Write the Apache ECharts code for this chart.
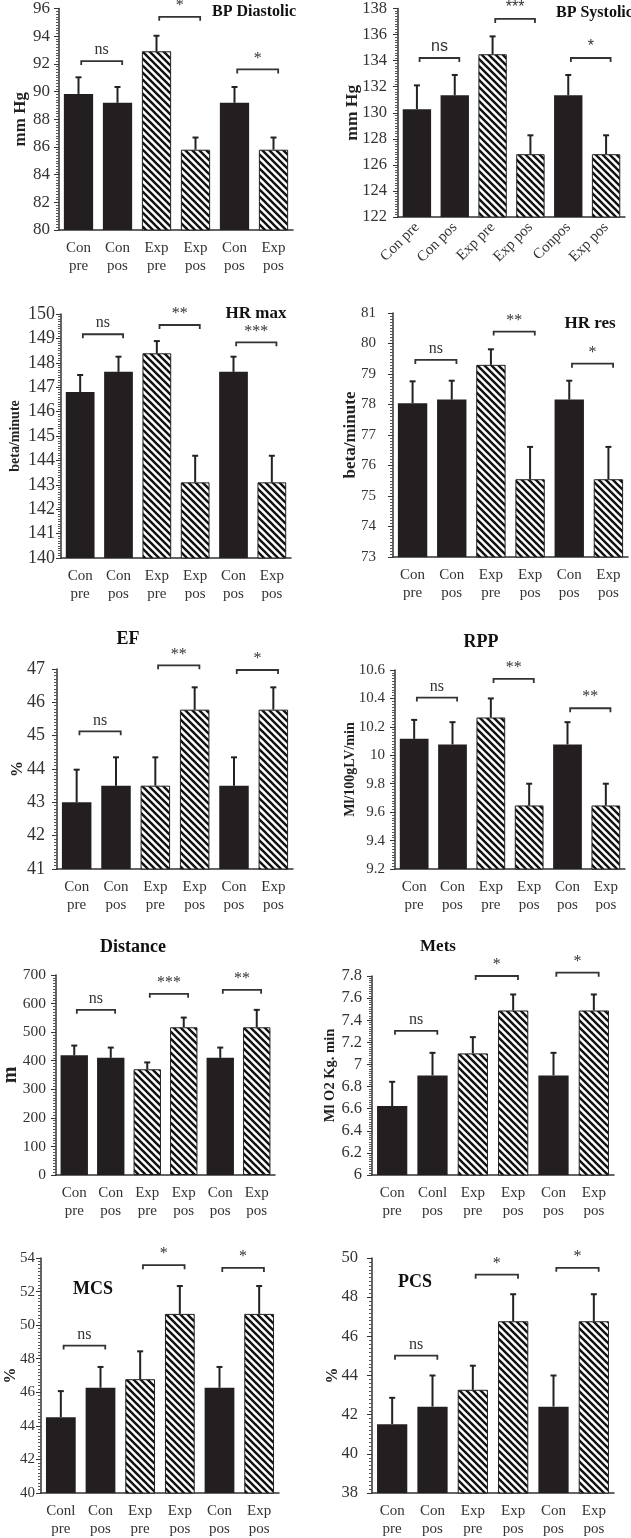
<!DOCTYPE html>
<html><head><meta charset="utf-8">
<script src="https://cdn.jsdelivr.net/npm/echarts@6/dist/echarts.min.js"></script>
<style>html,body{margin:0;padding:0;background:#fff}#c{width:631px;height:1538px}</style>
</head><body><div id="c"></div>
<script>
// ---------- DATA ----------
const catsStd   = ["Con\npre","Con\npos","Exp\npre","Exp\npos","Con\npos","Exp\npos"];
const catsBPSys = ["Con pre","Con pos","Exp pre","Exp pos","Conpos","Exp pos"];
const catsMets  = ["Con\npre","Conl\npos","Exp\npre","Exp\npos","Con\npos","Exp\npos"];
const catsMCS   = ["Conl\npre","Con\npos","Exp\npre","Exp\npos","Con\npos","Exp\npos"];
const hatched   = [false,false,true,true,false,true];

const titles = ["BP Diastolic","BP Systolic","HR max","HR res","EF","RPP","Distance","Mets","MCS","PCS"];
const yNames = ["mm Hg","mm Hg","beta/minute","beta/minute","%","Ml/100gLV/min","m","Ml O2 Kg. min","%","%"];

const bpDiaMean = [89.83, 89.19, 92.91, 85.80, 89.19, 85.80];
const bpDiaSD   = [1.20, 1.14, 1.12, 0.88, 1.14, 0.88];
const bpSysMean = [130.27, 131.34, 134.49, 126.82, 131.34, 126.82];
const bpSysSD   = [1.83, 1.56, 1.37, 1.45, 1.56, 1.45];
const hrMaxMean = [146.80, 147.63, 148.39, 143.10, 147.63, 143.10];
const hrMaxSD   = [0.70, 0.62, 0.50, 1.09, 0.62, 1.09];
const hrResMean = [78.04, 78.16, 79.30, 75.55, 78.16, 75.55];
const hrResSD   = [0.72, 0.62, 0.51, 1.06, 0.62, 1.06];
const efMean    = [43.00, 43.50, 43.50, 45.78, 43.50, 45.78];
const efSD      = [0.98, 0.85, 0.85, 0.67, 0.85, 0.67];
const rppMean   = [10.116, 10.076, 10.266, 9.647, 10.076, 9.647];
const rppSD     = [0.133, 0.157, 0.134, 0.153, 0.157, 0.153];
const distMean  = [419, 410, 370, 517, 410, 517];
const distSD    = [34, 36, 24, 34, 36, 61];
const metsMean  = [6.623, 6.90, 7.10, 7.488, 6.90, 7.488];
const metsSD    = [0.22, 0.205, 0.147, 0.145, 0.205, 0.145];
const mcsMean   = [44.52, 46.27, 46.78, 50.67, 46.27, 50.67];
const mcsSD     = [1.55, 1.24, 1.66, 1.66, 1.24, 1.66];
const pcsMean   = [41.51, 42.41, 43.27, 46.77, 42.41, 46.77];
const pcsSD     = [1.35, 1.59, 1.23, 1.38, 1.59, 1.38];

// significance brackets: [fromCategory, toCategory, yValue, label]
const bpDiaSig = [[0,1,92.2,"ns"],[2,3,95.4,"*"],[4,5,91.6,"*"]];
const bpSysSig = [[0,1,134.2,"ns"],[2,3,137.2,"***"],[4,5,134.2,"*"]];
const hrMaxSig = [[0,1,149.17,"ns"],[2,3,149.55,"**"],[4,5,148.84,"***"]];
const hrResSig = [[0,1,79.46,"ns"],[2,3,80.39,"**"],[4,5,79.34,"*"]];
const efSig    = [[0,1,45.13,"ns"],[2,3,47.11,"**"],[4,5,46.97,"*"]];
const rppSig   = [[0,1,10.406,"ns"],[2,3,10.537,"**"],[4,5,10.331,"**"]];
const distSig  = [[0,1,578,"ns"],[2,3,634,"***"],[4,5,648,"**"]];
const metsSig  = [[0,1,7.304,"ns"],[2,3,7.80,"*"],[4,5,7.83,"*"]];
const mcsSig   = [[0,1,48.78,"ns"],[2,3,53.57,"*"],[4,5,53.41,"*"]];
const pcsSig   = [[0,1,45.01,"ns"],[2,3,49.15,"*"],[4,5,49.5,"*"]];

// y-axis ranges [min, max, interval]
const yRanges = [[80,96,2],[122,138,2],[140,150,1],[73,81,1],[41,47,1],[9.2,10.6,0.2],[0,700,100],[6,7.8,0.2],[40,54,2],[38,50,2]];

const panels = [
  {cats:catsStd,   mean:bpDiaMean, sd:bpDiaSD, sig:bpDiaSig},
  {cats:catsBPSys, mean:bpSysMean, sd:bpSysSD, sig:bpSysSig},
  {cats:catsStd,   mean:hrMaxMean, sd:hrMaxSD, sig:hrMaxSig},
  {cats:catsStd,   mean:hrResMean, sd:hrResSD, sig:hrResSig},
  {cats:catsStd,   mean:efMean,    sd:efSD,    sig:efSig},
  {cats:catsStd,   mean:rppMean,   sd:rppSD,   sig:rppSig},
  {cats:catsStd,   mean:distMean,  sd:distSD,  sig:distSig},
  {cats:catsMets,  mean:metsMean,  sd:metsSD,  sig:metsSig},
  {cats:catsMCS,   mean:mcsMean,   sd:mcsSD,   sig:mcsSig},
  {cats:catsStd,   mean:pcsMean,   sd:pcsSD,   sig:pcsSig}
];

// ---------- LAYOUT / STYLE ----------
const layout = [
  {l:59,  t:7,    w:234, h:223, tick:17,   lm:9,  nameFs:17, gap:30, title:[254,12,'center',16], sigFont:'"Liberation Serif"'},
  {l:398, t:7,    w:227, h:210, tick:16.5, lm:11, nameFs:17.5, gap:37, title:[556,13,'left',16],   sigFont:'"Liberation Sans"', rot:45},
  {l:61,  t:314,  w:230, h:244, tick:18,   lm:6,  nameFs:14, gap:39, title:[256,314,'center',17], sigFont:'"Liberation Serif"'},
  {l:393, t:313,  w:235, h:244, tick:15,   lm:17, nameFs:17, gap:34, title:[590,324,'center',17], sigFont:'"Liberation Serif"'},
  {l:57,  t:669,  w:236, h:200, tick:18,   lm:12, nameFs:16, gap:31, title:[128,639,'center',18], sigFont:'"Liberation Serif"'},
  {l:395, t:670,  w:230, h:199, tick:15,   lm:10, nameFs:14, gap:38, title:[481,642,'center',18], sigFont:'"Liberation Serif"'},
  {l:53,  t:975,  w:222, h:200, tick:15.5, lm:10, nameFs:20, gap:35, title:[133,947,'center',18], sigFont:'"Liberation Serif"'},
  {l:372, t:976,  w:242, h:199, tick:16.5, lm:10, nameFs:14.5, gap:34, title:[438,947,'center',17], sigFont:'"Liberation Serif"'},
  {l:41,  t:1258, w:238, h:237, tick:15,   lm:6,  nameFs:16, gap:22, title:[93,1289,'center',18],  sigFont:'"Liberation Serif"'},
  {l:372, t:1258, w:242, h:237, tick:16.5, lm:14, nameFs:16, gap:31, title:[415,1282,'center',18], sigFont:'"Liberation Serif"'}
];

const SERIF = '"Liberation Serif", "Times New Roman", serif';
const DARK = '#231f20';

// hatch pattern
const pc = document.createElement('canvas');
pc.width = 7; pc.height = 7;
const g = pc.getContext('2d');
g.fillStyle = '#fff'; g.fillRect(0,0,7,7);
g.strokeStyle = '#111'; g.lineWidth = 2.4; g.lineCap = 'square';
for (const k of [-7,0,7]) { g.beginPath(); g.moveTo(k-1,-1); g.lineTo(k+8,8); g.stroke(); }
const hatch = {image: pc, repeat: 'repeat'};

function errRender(params, api) {
  const i = api.value(0);
  const p0 = api.coord([i, api.value(1)]);
  const p1 = api.coord([i, api.value(2)]);
  return {type:'group', children:[
    {type:'line', shape:{x1:p0[0], y1:p0[1], x2:p1[0], y2:p1[1]}, style:{stroke:'#222', lineWidth:2}},
    {type:'line', shape:{x1:p1[0]-3, y1:p1[1], x2:p1[0]+3, y2:p1[1]}, style:{stroke:'#222', lineWidth:2}}
  ]};
}
function sigRender(sig, font) {
  return function(params, api) {
    const b = sig[params.dataIndex];
    const bw = api.size([1,0])[0];
    const a = api.coord([b[0], b[2]]);
    const c = api.coord([b[1], b[2]]);
    const x1 = a[0] + bw*0.07, x2 = c[0] + bw*0.12, y = a[1];
    return {type:'group', children:[
      {type:'polyline', shape:{points:[[x1,y+4],[x1,y],[x2,y],[x2,y+4]]}, style:{stroke:'#333', lineWidth:1.8, fill:null}},
      {type:'text', x:(x1+x2)/2, y:y-3, style:{text:b[3], font:'16px ' + font, align:'center', verticalAlign:'bottom', fill:'#333'}}
    ]};
  };
}

const grid = [], xAxis = [], yAxis = [], series = [], graphic = [];
panels.forEach((p, k) => {
  const L = layout[k], R = yRanges[k];
  grid.push({left:L.l, top:L.t, width:L.w, height:L.h});
  xAxis.push({
    type:'category', gridIndex:k, data:p.cats,
    axisLine:{lineStyle:{color:'#333', width:1.5}}, axisTick:{show:false},
    axisLabel:{interval:0, fontFamily:SERIF, fontSize:15, color:'#333', lineHeight:18, margin:L.rot ? 8 : 9, rotate:L.rot || 0}
  });
  yAxis.push({
    type:'value', gridIndex:k, min:R[0], max:R[1], interval:R[2],
    axisLine:{show:true, lineStyle:{color:'#333', width:1.5}},
    axisTick:{show:true, length:5, lineStyle:{color:'#333', width:1}},
    minorTick:{show:true, splitNumber:10, length:3, lineStyle:{color:'#555', width:1}},
    splitLine:{show:false}, minorSplitLine:{show:false},
    axisLabel:{fontFamily:SERIF, fontSize:L.tick, color:'#333', margin:L.lm},
    name:yNames[k], nameLocation:'middle', nameRotate:90, nameGap:L.gap, nameMoveOverlap:false,
    nameTextStyle:{fontFamily:SERIF, fontWeight:'bold', fontSize:L.nameFs, color:'#222'}
  });
  series.push({
    type:'bar', xAxisIndex:k, yAxisIndex:k, barWidth:'75%', animation:false,
    data:p.mean.map((v,i)=>({value:v, itemStyle: hatched[i]
      ? {color:hatch, borderColor:'#222', borderWidth:1}
      : {color:DARK}}))
  });
  series.push({
    type:'custom', xAxisIndex:k, yAxisIndex:k, animation:false, renderItem:errRender,
    encode:{x:0, y:1},
    data:p.mean.map((v,i)=>[i, v, v + p.sd[i]])
  });
  series.push({
    type:'custom', xAxisIndex:k, yAxisIndex:k, animation:false, renderItem:sigRender(p.sig, L.sigFont),
    encode:{x:0, y:1},
    data:p.sig.map(b=>[b[0], b[2]])
  });
  graphic.push({
    type:'text', x:L.title[0], y:L.title[1],
    style:{text:titles[k], font:'bold ' + L.title[3] + 'px ' + SERIF, align:L.title[2], verticalAlign:'middle', fill:'#111'}
  });
});

const chart = echarts.init(document.getElementById('c'), null, {renderer:'canvas'});
chart.setOption({animation:false, backgroundColor:'#fff', grid, xAxis, yAxis, series, graphic});
</script>
</body></html>
